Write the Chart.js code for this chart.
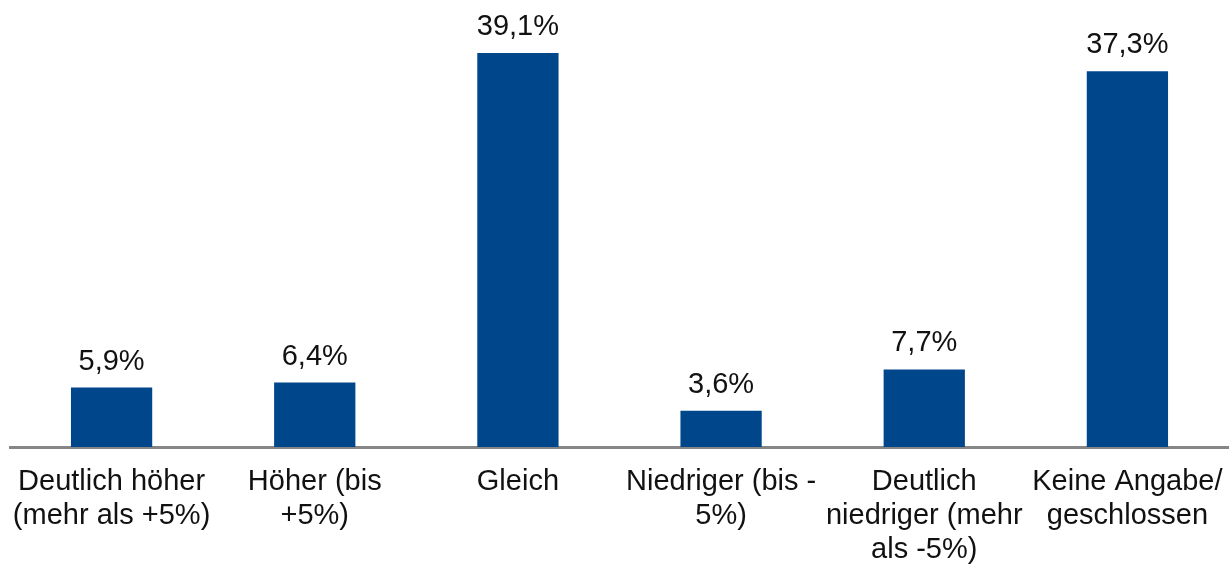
<!DOCTYPE html>
<html>
<head>
<meta charset="utf-8">
<script src="https://cdn.jsdelivr.net/npm/chart.js@4/dist/chart.umd.min.js"></script>
<style>
    html, body { margin: 0; padding: 0; background: #fff; }
    #wrap { width: 1229px; height: 564px; position: relative; }
</style>
</head>
<body>
<div id="wrap"><canvas id="chart"></canvas></div>
<script>
// Kategorien und Werte (in %)
const categories = [
    ['Deutlich höher', '(mehr als +5%)'],
    ['Höher (bis', '+5%)'],
    ['Gleich'],
    ['Niedriger (bis -', '5%)'],
    ['Deutlich', 'niedriger (mehr', 'als -5%)'],
    ['Keine Angabe/', 'geschlossen']
];
const values = [5.9, 6.4, 39.1, 3.6, 7.7, 37.3];

const barColor = '#00468B';
const fontFamily = '"Liberation Sans", Arial, sans-serif';

// Werte über den Balken schreiben
const valueLabels = {
    id: 'valueLabels',
    afterDatasetsDraw(chart) {
        let ctx = chart.ctx;
        let meta = chart.getDatasetMeta(0);
        ctx.save();
        ctx.font = '29px ' + fontFamily;
        ctx.fillStyle = '#111';
        ctx.textAlign = 'center';
        ctx.textBaseline = 'alphabetic';
        meta.data.forEach((bar, i) => {
            let text = values[i].toFixed(1).replace('.', ',') + '%';
            ctx.fillText(text, bar.x, bar.y - 18);
        });
        ctx.restore();
    }
};

let el = document.querySelector('#chart');
new Chart(el, {
    type: 'bar',
    data: {
        labels: categories,
        datasets: [
            {
                data: values,
                backgroundColor: barColor,
                borderWidth: 0,
                barPercentage: 0.4,
                categoryPercentage: 1
            }
        ]
    },
    options: {
        responsive: true,
        maintainAspectRatio: false,
        animation: false,
        layout: { padding: { left: 10, right: 0, top: 44, bottom: 0 } },
        plugins: {
            legend: { display: false },
            tooltip: { enabled: false }
        },
        scales: {
            x: {
                grid: { display: false },
                border: { display: true, color: '#868686', width: 3 },
                ticks: {
                    color: '#111',
                    font: { family: fontFamily, size: 29, lineHeight: 1.17 },
                    padding: 10,
                    maxRotation: 0,
                    autoSkip: false
                },
                afterFit(scale) {
                    // Beschriftungen dürfen über den Rand ragen
                    scale.height = 117;
                    scale.paddingLeft = 0;
                    scale.paddingRight = 0;
                }
            },
            y: {
                display: false,
                min: 0,
                max: 40
            }
        }
    },
    plugins: [valueLabels]
});
</script>
</body>
</html>
